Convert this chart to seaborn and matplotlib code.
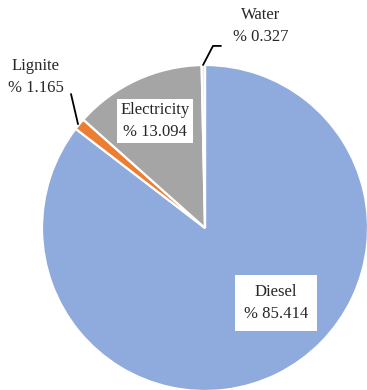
import matplotlib
matplotlib.use("Agg")
import matplotlib.pyplot as plt
import seaborn as sns

# Energy share by source (%)
sources = ["Diesel", "Lignite", "Electricity", "Water"]
shares = [85.414, 1.165, 13.094, 0.327]
colors = ["#8FAADC", "#ED7D31", "#A5A5A5", "#FFE699"]

sns.set_style("white")
plt.rcParams["font.family"] = ["Liberation Serif", "DejaVu Serif"]

W, H = 367, 390
fig = plt.figure(figsize=(W / 100, H / 100), dpi=100)
cx, cy, r = 205, 228, 163
ax = fig.add_axes([(cx - r) / W, (H - cy - r) / H, 2 * r / W, 2 * r / H])

wedges, _ = ax.pie(
    shares, colors=colors, startangle=90, counterclock=False,
    radius=1, wedgeprops=dict(edgecolor="white", linewidth=1.6),
)
for w in wedges:
    w.set_clip_on(False)

# pie() resets the limits, so fix them afterwards
ax.set_xlim(-1, 1)
ax.set_ylim(-1, 1)
ax.set_aspect("equal")
ax.axis("off")

txt = dict(ha="center", va="center", fontsize=12, color="#262626",
           linespacing=1.45)


def label(i, x, y, boxed=False, pad=0.35):
    kw = dict(txt)
    if boxed:
        kw["bbox"] = dict(boxstyle=f"square,pad={pad}", fc="white", ec="none")
    ax.text(x, y, f"{sources[i]}\n% {shares[i]:.3f}", **kw)


label(0, 0.436, -0.460, boxed=True, pad=0.55)
label(2, -0.307, 0.656, boxed=True, pad=0.2)
label(1, -1.037, 0.926)
label(3, 0.344, 1.239)

# leader lines for the thin slices
ax.plot([-0.779, -0.822], [0.637, 0.822], color="black", lw=1.3, clip_on=False)
ax.plot([-0.012, 0.049, 0.098], [1.0, 1.117, 1.117], color="black", lw=1.3,
        clip_on=False)

fig.savefig("out.png", dpi=100)
